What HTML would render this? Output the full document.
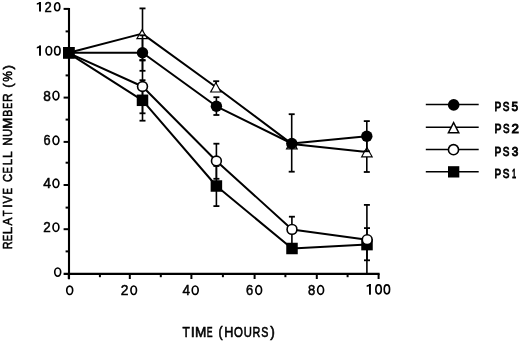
<!DOCTYPE html>
<html><head><meta charset="utf-8"><title>Relative cell number vs time</title><style>
html,body{margin:0;padding:0;background:#fff;overflow:hidden;}
svg{display:block;will-change:transform;}
text{font-family:"Liberation Sans",sans-serif;fill:#000;}
</style></head><body>
<svg width="520" height="341" viewBox="0 0 520 341">
<rect width="520" height="341" fill="#fff"/>
<line x1="69.0" y1="8.0" x2="69.0" y2="279.2" stroke="#000" stroke-width="2.1"/>
<line x1="63.6" y1="273.8" x2="379.6" y2="273.8" stroke="#000" stroke-width="2.3"/>
<line x1="63.6" y1="8.9" x2="69.0" y2="8.9" stroke="#000" stroke-width="2"/>
<line x1="63.6" y1="52.8" x2="69.0" y2="52.8" stroke="#000" stroke-width="2"/>
<line x1="63.6" y1="97.6" x2="69.0" y2="97.6" stroke="#000" stroke-width="2"/>
<line x1="63.6" y1="141.9" x2="69.0" y2="141.9" stroke="#000" stroke-width="2"/>
<line x1="63.6" y1="185.0" x2="69.0" y2="185.0" stroke="#000" stroke-width="2"/>
<line x1="63.6" y1="229.2" x2="69.0" y2="229.2" stroke="#000" stroke-width="2"/>
<line x1="65.6" y1="31.4" x2="69.0" y2="31.4" stroke="#000" stroke-width="2"/>
<line x1="65.6" y1="75.4" x2="69.0" y2="75.4" stroke="#000" stroke-width="2"/>
<line x1="65.6" y1="119.6" x2="69.0" y2="119.6" stroke="#000" stroke-width="2"/>
<line x1="65.6" y1="162.7" x2="69.0" y2="162.7" stroke="#000" stroke-width="2"/>
<line x1="65.6" y1="207.6" x2="69.0" y2="207.6" stroke="#000" stroke-width="2"/>
<line x1="65.6" y1="251.4" x2="69.0" y2="251.4" stroke="#000" stroke-width="2"/>
<line x1="68.8" y1="273.8" x2="68.8" y2="279.0" stroke="#000" stroke-width="2"/>
<line x1="129.8" y1="273.8" x2="129.8" y2="279.0" stroke="#000" stroke-width="2"/>
<line x1="191.4" y1="273.8" x2="191.4" y2="279.0" stroke="#000" stroke-width="2"/>
<line x1="254.6" y1="273.8" x2="254.6" y2="279.0" stroke="#000" stroke-width="2"/>
<line x1="316.8" y1="273.8" x2="316.8" y2="279.0" stroke="#000" stroke-width="2"/>
<line x1="378.6" y1="273.8" x2="378.6" y2="279.0" stroke="#000" stroke-width="2"/>
<line x1="99.9" y1="273.8" x2="99.9" y2="277.2" stroke="#000" stroke-width="2"/>
<line x1="160.8" y1="273.8" x2="160.8" y2="277.2" stroke="#000" stroke-width="2"/>
<line x1="222.9" y1="273.8" x2="222.9" y2="277.2" stroke="#000" stroke-width="2"/>
<line x1="285.4" y1="273.8" x2="285.4" y2="277.2" stroke="#000" stroke-width="2"/>
<line x1="347.6" y1="273.8" x2="347.6" y2="277.2" stroke="#000" stroke-width="2"/>
<polyline points="68.8,52.8 142.5,52.8 216.4,106.3 291.8,143.5 366.8,136.2" fill="none" stroke="#000" stroke-width="2" stroke-linejoin="round"/>
<polyline points="68.8,52.8 142.2,33.6 215.8,87.0 291.8,143.9 366.8,151.9" fill="none" stroke="#000" stroke-width="2" stroke-linejoin="round"/>
<polyline points="68.8,53.2 142.5,86.5 216.4,161.0 292.0,229.4 367.2,239.7" fill="none" stroke="#000" stroke-width="2" stroke-linejoin="round"/>
<polyline points="68.8,53.3 142.5,100.3 216.4,186.0 292.0,248.5 367.0,244.6" fill="none" stroke="#000" stroke-width="2" stroke-linejoin="round"/>
<line x1="142.5" y1="8.4" x2="142.5" y2="60.0" stroke="#000" stroke-width="1.6"/>
<line x1="139.5" y1="8.4" x2="145.5" y2="8.4" stroke="#000" stroke-width="1.8"/>
<line x1="139.5" y1="60.0" x2="145.5" y2="60.0" stroke="#000" stroke-width="1.8"/>
<line x1="216.2" y1="81.2" x2="216.2" y2="92.0" stroke="#000" stroke-width="1.6"/>
<line x1="213.2" y1="81.2" x2="219.2" y2="81.2" stroke="#000" stroke-width="1.8"/>
<line x1="366.8" y1="132.0" x2="366.8" y2="172.0" stroke="#000" stroke-width="1.6"/>
<line x1="363.8" y1="172.0" x2="369.8" y2="172.0" stroke="#000" stroke-width="1.8"/>
<polygon points="142.1,28.6 148.29999999999998,39.2 135.9,39.2" fill="#000"/><polygon points="142.1,30.88 146.3,38.05 137.9,38.05" fill="#fff"/>
<polygon points="215.8,81.4 221.9,92.6 209.70000000000002,92.6" fill="#000"/><polygon points="215.8,83.8 219.96,91.45 211.64,91.45" fill="#fff"/>
<polygon points="291.85,138.2 298.15000000000003,149.5 285.55,149.5" fill="#000"/><polygon points="291.85,140.56 296.19,148.35 287.51,148.35" fill="#fff"/>
<polygon points="366.9,146.2 373.15,157.5 360.65,157.5" fill="#000"/><polygon points="366.9,148.58 371.2,156.35 362.6,156.35" fill="#fff"/>
<line x1="142.5" y1="35.3" x2="142.5" y2="70.8" stroke="#000" stroke-width="1.6"/>
<line x1="139.5" y1="35.3" x2="145.5" y2="35.3" stroke="#000" stroke-width="1.8"/>
<line x1="139.5" y1="70.8" x2="145.5" y2="70.8" stroke="#000" stroke-width="1.8"/>
<line x1="216.4" y1="97.2" x2="216.4" y2="115.0" stroke="#000" stroke-width="1.6"/>
<line x1="213.4" y1="97.2" x2="219.4" y2="97.2" stroke="#000" stroke-width="1.8"/>
<line x1="213.4" y1="115.0" x2="219.4" y2="115.0" stroke="#000" stroke-width="1.8"/>
<line x1="291.7" y1="114.2" x2="291.7" y2="171.7" stroke="#000" stroke-width="1.6"/>
<line x1="288.7" y1="114.2" x2="294.7" y2="114.2" stroke="#000" stroke-width="1.8"/>
<line x1="288.7" y1="171.7" x2="294.7" y2="171.7" stroke="#000" stroke-width="1.8"/>
<line x1="366.8" y1="121.1" x2="366.8" y2="151.3" stroke="#000" stroke-width="1.6"/>
<line x1="363.8" y1="121.1" x2="369.8" y2="121.1" stroke="#000" stroke-width="1.8"/>
<line x1="363.8" y1="151.3" x2="369.8" y2="151.3" stroke="#000" stroke-width="1.8"/>
<circle cx="142.5" cy="52.8" r="5.7" fill="#000"/>
<circle cx="216.4" cy="106.3" r="5.7" fill="#000"/>
<circle cx="291.8" cy="143.5" r="5.7" fill="#000"/>
<circle cx="366.8" cy="136.2" r="5.7" fill="#000"/>
<line x1="142.5" y1="80.2" x2="142.5" y2="120.7" stroke="#000" stroke-width="1.6"/>
<line x1="139.5" y1="80.2" x2="145.5" y2="80.2" stroke="#000" stroke-width="1.8"/>
<line x1="139.5" y1="120.7" x2="145.5" y2="120.7" stroke="#000" stroke-width="1.8"/>
<line x1="216.4" y1="166.0" x2="216.4" y2="206.1" stroke="#000" stroke-width="1.6"/>
<line x1="213.4" y1="166.0" x2="219.4" y2="166.0" stroke="#000" stroke-width="1.8"/>
<line x1="213.4" y1="206.1" x2="219.4" y2="206.1" stroke="#000" stroke-width="1.8"/>
<line x1="367.0" y1="228.1" x2="367.0" y2="260.3" stroke="#000" stroke-width="1.6"/>
<line x1="364.0" y1="228.1" x2="370.0" y2="228.1" stroke="#000" stroke-width="1.8"/>
<line x1="364.0" y1="260.3" x2="370.0" y2="260.3" stroke="#000" stroke-width="1.8"/>
<rect x="136.75" y="94.55" width="11.5" height="11.5" fill="#000"/>
<rect x="210.65" y="180.25" width="11.5" height="11.5" fill="#000"/>
<rect x="286.25" y="242.75" width="11.5" height="11.5" fill="#000"/>
<rect x="361.25" y="238.85" width="11.5" height="11.5" fill="#000"/>
<line x1="142.5" y1="60.5" x2="142.5" y2="113.3" stroke="#000" stroke-width="1.6"/>
<line x1="139.5" y1="60.5" x2="145.5" y2="60.5" stroke="#000" stroke-width="1.8"/>
<line x1="139.5" y1="113.3" x2="145.5" y2="113.3" stroke="#000" stroke-width="1.8"/>
<line x1="216.4" y1="143.7" x2="216.4" y2="178.8" stroke="#000" stroke-width="1.6"/>
<line x1="213.4" y1="143.7" x2="219.4" y2="143.7" stroke="#000" stroke-width="1.8"/>
<line x1="213.4" y1="178.8" x2="219.4" y2="178.8" stroke="#000" stroke-width="1.8"/>
<line x1="291.9" y1="216.7" x2="291.9" y2="244.0" stroke="#000" stroke-width="1.6"/>
<line x1="288.9" y1="216.7" x2="294.9" y2="216.7" stroke="#000" stroke-width="1.8"/>
<line x1="366.9" y1="204.9" x2="366.9" y2="273.0" stroke="#000" stroke-width="1.6"/>
<line x1="363.9" y1="204.9" x2="369.9" y2="204.9" stroke="#000" stroke-width="1.8"/>
<circle cx="142.5" cy="86.5" r="5.7" fill="#000"/><circle cx="142.5" cy="86.5" r="4.1" fill="#fff"/>
<circle cx="216.4" cy="161.0" r="5.7" fill="#000"/><circle cx="216.4" cy="161.0" r="4.1" fill="#fff"/>
<circle cx="292.0" cy="229.4" r="5.7" fill="#000"/><circle cx="292.0" cy="229.4" r="4.1" fill="#fff"/>
<circle cx="367.2" cy="239.7" r="5.7" fill="#000"/><circle cx="367.2" cy="239.7" r="4.1" fill="#fff"/>
<rect x="63.0" y="47.0" width="11.8" height="11.8" fill="#000"/>
<line x1="425.8" y1="104.6" x2="478.7" y2="104.6" stroke="#000" stroke-width="1.5"/>
<line x1="425.8" y1="127.2" x2="478.7" y2="127.2" stroke="#000" stroke-width="1.5"/>
<line x1="425.8" y1="149.5" x2="478.7" y2="149.5" stroke="#000" stroke-width="1.5"/>
<line x1="425.8" y1="171.8" x2="478.7" y2="171.8" stroke="#000" stroke-width="1.5"/>
<circle cx="453.7" cy="104.89999999999999" r="5.8" fill="#000"/>
<polygon points="453.6,120.9 460.0,133.6 447.20000000000005,133.6" fill="#000"/><polygon points="453.6,124.23 457.56,132.1 449.64,132.1" fill="#fff"/>
<circle cx="453.5" cy="149.7" r="5.85" fill="#000"/><circle cx="453.5" cy="149.7" r="4.25" fill="#fff"/>
<rect x="448.0" y="166.2" width="11.3" height="11.3" fill="#000"/>
<line x1="40.0" y1="1.9" x2="40.0" y2="11.6" stroke="#000" stroke-width="1.95"/><path d="M40.50,1.90 L40.50,3.70 L36.80,4.80 L36.80,3.20 Z" fill="#000"/>
<text transform="translate(44.57,11.6) scale(0.906,1)" font-size="14.4" stroke="#000" stroke-width="0.5">2</text>
<ellipse cx="57.20" cy="6.75" rx="2.57" ry="3.97" fill="none" stroke="#000" stroke-width="1.65"/>
<line x1="40.0" y1="45.6" x2="40.0" y2="55.8" stroke="#000" stroke-width="1.95"/><path d="M40.50,45.60 L40.50,47.40 L36.80,48.50 L36.80,46.90 Z" fill="#000"/>
<ellipse cx="48.85" cy="50.70" rx="2.83" ry="4.22" fill="none" stroke="#000" stroke-width="1.65"/>
<ellipse cx="57.35" cy="50.70" rx="2.72" ry="4.22" fill="none" stroke="#000" stroke-width="1.65"/>
<text transform="translate(43.35,100.7) scale(0.949,1)" font-size="14.4" stroke="#000" stroke-width="0.5">8</text>
<ellipse cx="55.95" cy="95.55" rx="2.92" ry="4.27" fill="none" stroke="#000" stroke-width="1.65"/>
<text transform="translate(43.57,145.4) scale(0.883,1)" font-size="14.4" stroke="#000" stroke-width="0.5">6</text>
<ellipse cx="55.95" cy="140.35" rx="2.92" ry="4.17" fill="none" stroke="#000" stroke-width="1.65"/>
<text transform="translate(43.22,188.4) scale(0.967,1)" font-size="14.4" stroke="#000" stroke-width="0.5">4</text>
<ellipse cx="55.95" cy="183.35" rx="2.92" ry="4.17" fill="none" stroke="#000" stroke-width="1.65"/>
<text transform="translate(43.26,232.2) scale(0.934,1)" font-size="14.4" stroke="#000" stroke-width="0.5">2</text>
<ellipse cx="55.95" cy="227.15" rx="2.92" ry="4.17" fill="none" stroke="#000" stroke-width="1.65"/>
<ellipse cx="57.70" cy="272.10" rx="2.97" ry="4.12" fill="none" stroke="#000" stroke-width="1.65"/>
<ellipse cx="69.70" cy="290.30" rx="2.97" ry="4.22" fill="none" stroke="#000" stroke-width="1.65"/>
<text transform="translate(120.85,295.4) scale(0.962,1)" font-size="14.4" stroke="#000" stroke-width="0.5">2</text>
<ellipse cx="133.70" cy="290.25" rx="2.77" ry="4.27" fill="none" stroke="#000" stroke-width="1.65"/>
<text transform="translate(182.52,295.3) scale(0.941,1)" font-size="14.4" stroke="#000" stroke-width="0.5">4</text>
<ellipse cx="195.20" cy="290.20" rx="2.97" ry="4.22" fill="none" stroke="#000" stroke-width="1.65"/>
<text transform="translate(246.07,295.3) scale(0.897,1)" font-size="14.4" stroke="#000" stroke-width="0.5">6</text>
<ellipse cx="258.70" cy="290.05" rx="2.88" ry="4.38" fill="none" stroke="#000" stroke-width="1.65"/>
<text transform="translate(307.96,295.3) scale(0.908,1)" font-size="14.4" stroke="#000" stroke-width="0.5">8</text>
<ellipse cx="320.60" cy="290.05" rx="2.97" ry="4.38" fill="none" stroke="#000" stroke-width="1.65"/>
<line x1="369.95" y1="284.0" x2="369.95" y2="294.7" stroke="#000" stroke-width="1.95"/><path d="M370.45,284.00 L370.45,285.80 L366.70,286.90 L366.70,285.30 Z" fill="#000"/>
<ellipse cx="378.55" cy="289.35" rx="2.72" ry="4.47" fill="none" stroke="#000" stroke-width="1.65"/>
<ellipse cx="386.90" cy="289.35" rx="2.68" ry="4.47" fill="none" stroke="#000" stroke-width="1.65"/>
<text transform="translate(494.40,111.3) scale(0.755,1)" font-size="13.5" stroke="#000" stroke-width="0.9">P</text>
<text transform="translate(502.77,111.3) scale(0.739,1)" font-size="13.5" stroke="#000" stroke-width="0.9">S</text>
<text transform="translate(511.62,111.3) scale(0.877,1)" font-size="13.5" stroke="#000" stroke-width="0.9">5</text>
<text transform="translate(494.39,133.2) scale(0.780,1)" font-size="13.5" stroke="#000" stroke-width="0.9">P</text>
<text transform="translate(502.88,133.2) scale(0.727,1)" font-size="13.5" stroke="#000" stroke-width="0.9">S</text>
<text transform="translate(511.38,133.2) scale(0.992,1)" font-size="13.5" stroke="#000" stroke-width="0.9">2</text>
<text transform="translate(494.40,155.7) scale(0.755,1)" font-size="13.5" stroke="#000" stroke-width="0.9">P</text>
<text transform="translate(502.77,155.7) scale(0.739,1)" font-size="13.5" stroke="#000" stroke-width="0.9">S</text>
<text transform="translate(511.64,155.7) scale(0.877,1)" font-size="13.5" stroke="#000" stroke-width="0.9">3</text>
<text transform="translate(494.51,177.6) scale(0.742,1)" font-size="13.5" stroke="#000" stroke-width="0.9">P</text>
<text transform="translate(502.77,177.6) scale(0.739,1)" font-size="13.5" stroke="#000" stroke-width="0.9">S</text>
<text transform="translate(512.08,177.6) scale(0.551,1)" font-size="13.5" stroke="#000" stroke-width="0.9">1</text>
<text transform="translate(182.39,336.9) scale(0.856,1)" font-size="14.0" stroke="#000" stroke-width="0.6">T</text>
<text transform="translate(190.87,336.9) scale(1.044,1)" font-size="14.0" stroke="#000" stroke-width="0.6">I</text>
<text transform="translate(195.07,336.9) scale(0.973,1)" font-size="14.0" stroke="#000" stroke-width="0.6">M</text>
<text transform="translate(206.87,336.9) scale(0.623,1)" font-size="14.0" stroke="#000" stroke-width="0.6">E</text>
<text transform="translate(218.60,336.9) scale(0.882,1)" font-size="14.0" stroke="#000" stroke-width="0.6">(</text>
<text transform="translate(224.24,336.9) scale(0.902,1)" font-size="14.0" stroke="#000" stroke-width="0.6">H</text>
<text transform="translate(234.11,336.9) scale(0.817,1)" font-size="14.0" stroke="#000" stroke-width="0.6">O</text>
<text transform="translate(243.77,336.9) scale(0.807,1)" font-size="14.0" stroke="#000" stroke-width="0.6">U</text>
<text transform="translate(252.44,336.9) scale(0.775,1)" font-size="14.0" stroke="#000" stroke-width="0.6">R</text>
<text transform="translate(261.14,336.9) scale(0.763,1)" font-size="14.0" stroke="#000" stroke-width="0.6">S</text>
<text transform="translate(270.21,336.9) scale(0.974,1)" font-size="14.0" stroke="#000" stroke-width="0.6">)</text>
<text transform="translate(12.0,248.5) rotate(-90) translate(-0.65,0) scale(0.802,1)" font-size="13.5" stroke="#000" stroke-width="0.6">R</text>
<text transform="translate(12.0,240.5) rotate(-90) translate(-0.55,0) scale(0.682,1)" font-size="13.5" stroke="#000" stroke-width="0.6">E</text>
<text transform="translate(12.0,233.5) rotate(-90) translate(-0.79,0) scale(0.977,1)" font-size="13.5" stroke="#000" stroke-width="0.6">L</text>
<text transform="translate(12.0,225.7) rotate(-90) translate(0.24,0) scale(0.880,1)" font-size="13.5" stroke="#000" stroke-width="0.6">A</text>
<text transform="translate(12.0,216.2) rotate(-90) translate(0.00,0) scale(0.692,1)" font-size="13.5" stroke="#000" stroke-width="0.6">T</text>
<text transform="translate(12.0,207.0) rotate(-90) translate(-0.91,0) scale(0.963,1)" font-size="13.5" stroke="#000" stroke-width="0.6">I</text>
<text transform="translate(12.0,203.7) rotate(-90) translate(0.20,0) scale(0.845,1)" font-size="13.5" stroke="#000" stroke-width="0.6">V</text>
<text transform="translate(12.0,193.8) rotate(-90) translate(-0.58,0) scale(0.720,1)" font-size="13.5" stroke="#000" stroke-width="0.6">E</text>
<text transform="translate(12.0,181.7) rotate(-90) translate(-0.32,0) scale(0.831,1)" font-size="13.5" stroke="#000" stroke-width="0.6">C</text>
<text transform="translate(12.0,172.6) rotate(-90) translate(-0.55,0) scale(0.682,1)" font-size="13.5" stroke="#000" stroke-width="0.6">E</text>
<text transform="translate(12.0,164.6) rotate(-90) translate(-0.69,0) scale(0.855,1)" font-size="13.5" stroke="#000" stroke-width="0.6">L</text>
<text transform="translate(12.0,157.2) rotate(-90) translate(-0.73,0) scale(0.900,1)" font-size="13.5" stroke="#000" stroke-width="0.6">L</text>
<text transform="translate(12.0,145.0) rotate(-90) translate(-0.69,0) scale(0.859,1)" font-size="13.5" stroke="#000" stroke-width="0.6">N</text>
<text transform="translate(12.0,136.2) rotate(-90) translate(-0.59,0) scale(0.798,1)" font-size="13.5" stroke="#000" stroke-width="0.6">U</text>
<text transform="translate(12.0,127.9) rotate(-90) translate(-0.79,0) scale(0.976,1)" font-size="13.5" stroke="#000" stroke-width="0.6">M</text>
<text transform="translate(12.0,116.2) rotate(-90) translate(-0.63,0) scale(0.784,1)" font-size="13.5" stroke="#000" stroke-width="0.6">B</text>
<text transform="translate(12.0,108.2) rotate(-90) translate(-0.52,0) scale(0.644,1)" font-size="13.5" stroke="#000" stroke-width="0.6">E</text>
<text transform="translate(12.0,101.2) rotate(-90) translate(-0.71,0) scale(0.883,1)" font-size="13.5" stroke="#000" stroke-width="0.6">R</text>
<text transform="translate(12.0,87.1) rotate(-90) translate(-0.53,0) scale(0.981,1)" font-size="13.5" stroke="#000" stroke-width="0.6">(</text>
<text transform="translate(12.0,81.7) rotate(-90) translate(-0.16,0) scale(0.885,1)" font-size="13.5" stroke="#000" stroke-width="0.6">&#37;</text>
<text transform="translate(12.0,69.8) rotate(-90) translate(0.21,0) scale(0.981,1)" font-size="13.5" stroke="#000" stroke-width="0.6">)</text>
</svg>
</body></html>
